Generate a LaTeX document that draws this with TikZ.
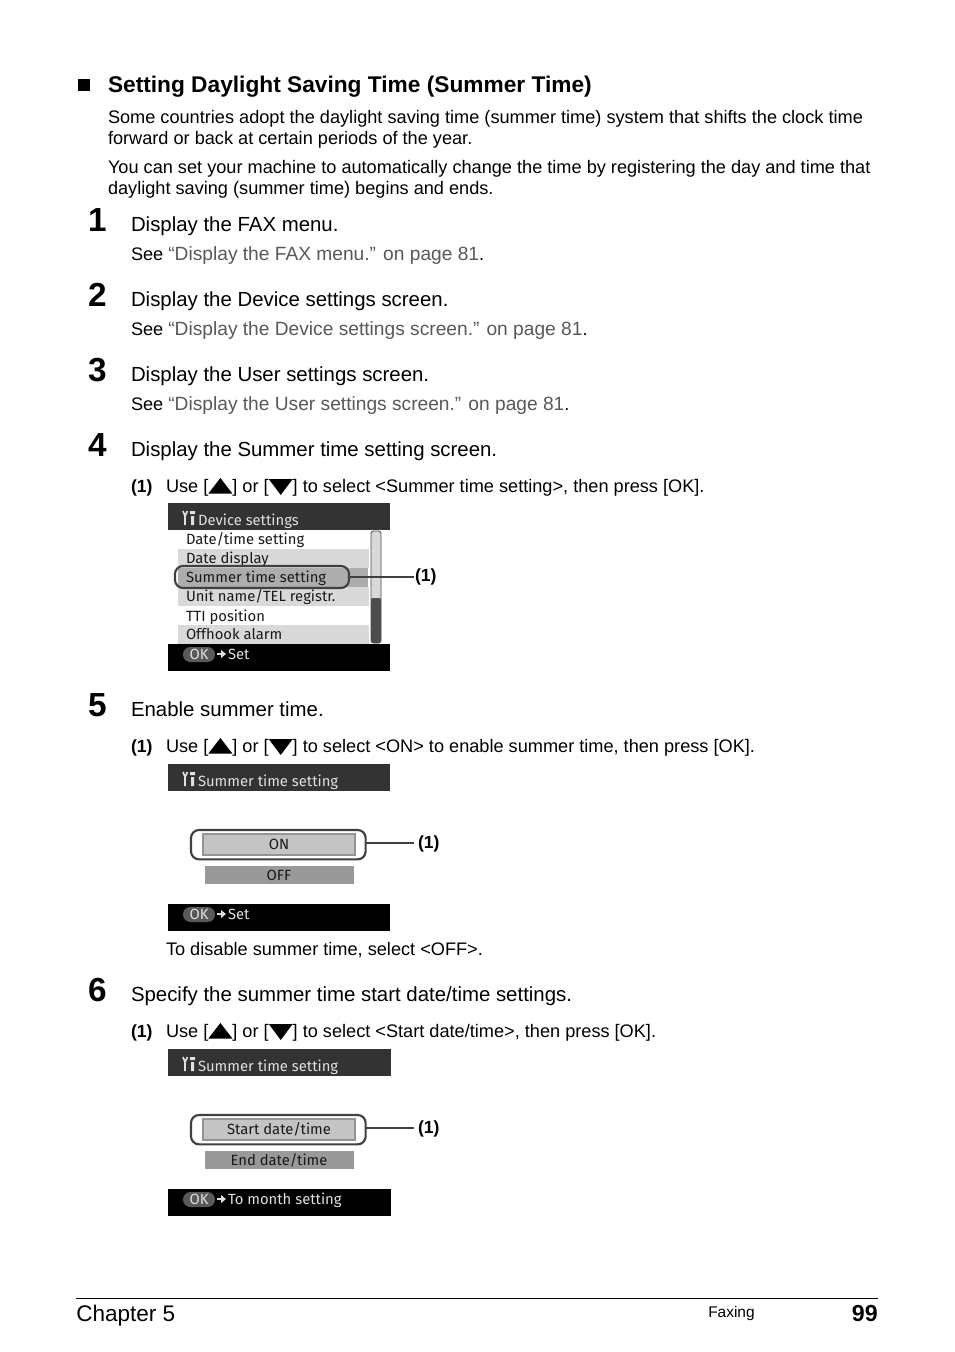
\documentclass[tikz,border=0pt]{standalone}
\usepackage{fontspec}
\setmainfont{Liberation Sans}
\newfontfamily\lcd{Fira Sans}
\newcommand{\up}{\tikz[baseline=0pt,x=.75pt,y=.75pt]\fill (0,-1.5)--(24,-1.5)--(12,14)--cycle;}
\newcommand{\dn}{\tikz[baseline=0pt,x=.75pt,y=.75pt]\fill (0,13)--(24,13)--(12,-3)--cycle;}
\definecolor{link}{gray}{0.35}
\definecolor{hdr}{gray}{0.2}
\definecolor{rowg}{gray}{0.85}
\definecolor{sel}{gray}{0.68}
\definecolor{onfill}{gray}{0.77}
\definecolor{onedge}{gray}{0.58}
\definecolor{offfill}{gray}{0.6}
\definecolor{okfill}{gray}{0.35}
\definecolor{lcdtxt}{gray}{0.1}
\definecolor{lcdlite}{gray}{0.88}
\newcommand{\lnk}[1]{{\fontsize{14.38}{15}\selectfont\textcolor{link}{#1}}}
\tikzset{
  x=0.75pt,y=-0.75pt,
  txt/.style={anchor=base west,inner sep=0,outer sep=0,font=\fontsize{13.62}{15}\selectfont},
  stepline/.style={anchor=base west,inner sep=0,outer sep=0,font=\fontsize{15.3}{17}\selectfont},
  head/.style={anchor=base west,inner sep=0,outer sep=0,font=\fontsize{17.03}{19}\selectfont\bfseries},
  num/.style={anchor=base west,inner sep=0,outer sep=0,font=\fontsize{25}{27}\selectfont\bfseries},
  small/.style={anchor=base west,inner sep=0,outer sep=0,font=\fontsize{13.2}{15}\selectfont\bfseries},
  lcdw/.style={anchor=base west,inner sep=0,outer sep=0,text=lcdlite,font=\fontsize{11.1}{13}\lcd},
  lcdb/.style={anchor=base west,inner sep=0,outer sep=0,text=lcdtxt,font=\fontsize{11.1}{13}\lcd},
  lcdc/.style={anchor=base,inner sep=0,outer sep=0,text=lcdtxt,font=\fontsize{11.1}{13}\lcd},
  callout/.style={draw=black!75,line width=1.6pt,rounded corners=6pt,inner sep=0,outer sep=0,anchor=north west},
  leader/.style={draw=black!75,line width=1.2pt},
  okpill/.style={fill=okfill,rounded corners=5.5pt},
}
\newcommand{\okbar}[4]{% x0,y0,x1,label
  \fill[black] (#1,#2) rectangle (#3,#2+27);
  \fill[okpill] (#1+15,#2+3) rectangle (#1+47,#2+18);
  \node[lcdw,anchor=base] at (#1+31,#2+15) {OK};
  \draw[lcdlite,line width=1.1pt] (#1+49,#2+10) -- (#1+54,#2+10);
  \fill[lcdlite] (#1+53,#2+6) -- (#1+58,#2+10) -- (#1+53,#2+14) -- cycle;
  \node[lcdw] at (#1+60,#2+15) {#4};
}
\newcommand{\wrench}[2]{%
  \draw[lcdlite,line width=1.2pt] (#1+1,#2-14) -- (#1+3,#2-9) -- (#1+5.5,#2-14) (#1+3,#2-9) -- (#1+3,#2);
  \fill[lcdlite] (#1+8,#2-14) rectangle ++(5,3) (#1+9,#2-9) rectangle ++(3,9);
}
\begin{document}
\begin{tikzpicture}
\useasboundingbox (0,0) rectangle (954,1352);
\fill[white] (0,0) rectangle (954,1352);
% heading
\fill[black] (78,79) rectangle (90,91);
\node[head] (h) at (108,92.5) {Setting Daylight Saving Time (Summer Time)};
\node[txt] (p1) at (108,124) {Some countries adopt the daylight saving time (summer time) system that shifts the clock time};
\node[txt] (p2) at (108,145) {forward or back at certain periods of the year.};
\node[txt] (p3) at (108,174) {You can set your machine to automatically change the time by registering the day and time that};
\node[txt] (p4) at (108,195) {daylight saving (summer time) begins and ends.};
% steps
\node[num] (n1) at (88,231) {1};
\node[stepline] (s1) at (131,231) {Display the FAX menu.};
\node[txt] (s1b) at (131,260) {See \lnk{“Display the FAX menu.” on page 81}.};
\node[num] (n2) at (88,306) {2};
\node[stepline] (s2) at (131,306) {Display the Device settings screen.};
\node[txt] (s2b) at (131,335) {See \lnk{“Display the Device settings screen.” on page 81}.};
\node[num] (n3) at (88,381) {3};
\node[stepline] (s3) at (131,381) {Display the User settings screen.};
\node[txt] (s3b) at (131,410) {See \lnk{“Display the User settings screen.” on page 81}.};
\node[num] (n4) at (88,456) {4};
\node[stepline] (s4) at (131,456) {Display the Summer time setting screen.};
\node[small] (l4) at (131,492) {(1)};
\node[txt] (u4) at (166,492) {Use [\up] or [\dn] to select <Summer time setting>, then press [OK].};
% screen 1
\fill[hdr] (168,503) rectangle (390,530);
\wrench{182}{525}
\node[lcdw] (t10) at (198,525) {Device settings};
\fill[rowg] (178,549) rectangle (369,568);
\fill[sel] (178,568) rectangle (368,587);
\fill[rowg] (178,587) rectangle (369,606);
\fill[rowg] (178,625) rectangle (369,644);
\node[lcdb] (t11) at (186,544) {Date/time setting};
\node[lcdb] (t12) at (186,563) {Date display};
\node[lcdb] (t13) at (186,582) {Summer time setting};
\node[lcdb] (t14) at (186,601) {Unit name/TEL registr.};
\node[lcdb] (t15) at (186,621) {TTI position};
\node[lcdb] (t16) at (186,639) {Offhook alarm};
\filldraw[fill=rowg,draw=black!70,line width=.6pt,rounded corners=2pt] (371,531) rectangle (381,643);
\fill[black!70,rounded corners=1.5pt] (371,598) rectangle (381,643);
\okbar{168}{644}{390}{Set}
\node[callout,minimum width=130.5pt,minimum height=16.5pt] (c1) at (175,566) {};
\coordinate (e1) at (414,577);
\draw[leader] (c1.east |- e1) -- (e1);
\node[small] (o1) at (415,581) {(1)};
% step 5
\node[num] (n5) at (88,716) {5};
\node[stepline] (s5) at (131,716) {Enable summer time.};
\node[small] (l5) at (131,752) {(1)};
\node[txt] (u5) at (166,752) {Use [\up] or [\dn] to select <ON> to enable summer time, then press [OK].};
\fill[hdr] (168,764) rectangle (390,791);
\wrench{182}{786}
\node[lcdw] (t20) at (198,786) {Summer time setting};
\filldraw[fill=onfill,draw=onedge,line width=1.5pt] (203,834) rectangle (355,855);
\fill[offfill] (205,866) rectangle (354,884);
\node[lcdc] (t21) at (279,849) {ON};
\node[lcdc] (t22) at (279,880) {OFF};
\okbar{168}{904}{390}{Set}
\node[callout,minimum width=131pt,minimum height=22pt] (c2) at (191,830) {};
\coordinate (e2) at (414,843);
\draw[leader] (c2.east |- e2) -- (e2);
\node[small] (o2) at (418,848) {(1)};
\node[txt] (d5) at (166,955) {To disable summer time, select <OFF>.};
% step 6
\node[num] (n6) at (88,1001) {6};
\node[stepline] (s6) at (131,1001) {Specify the summer time start date/time settings.};
\node[small] (l6) at (131,1037) {(1)};
\node[txt] (u6) at (166,1037) {Use [\up] or [\dn] to select <Start date/time>, then press [OK].};
\fill[hdr] (168,1049) rectangle (391,1076);
\wrench{182}{1071}
\node[lcdw] (t30) at (198,1071) {Summer time setting};
\filldraw[fill=onfill,draw=onedge,line width=1.5pt] (203,1119) rectangle (355,1140);
\fill[offfill] (205,1151) rectangle (354,1169);
\node[lcdc] (t31) at (279,1134) {Start date/time};
\node[lcdc] (t32) at (279,1165) {End date/time};
\okbar{168}{1189}{391}{To month setting}
\node[callout,minimum width=131pt,minimum height=22pt] (c3) at (191,1115) {};
\coordinate (e3) at (414,1128);
\draw[leader] (c3.east |- e3) -- (e3);
\node[small] (o3) at (418,1133) {(1)};
% footer
\draw[black,line width=.6pt] (76,1298) -- (878,1298);
\node[anchor=base west,inner sep=0,font=\fontsize{16.9}{19}\selectfont] (ch) at (76,1321) {Chapter 5};
\node[anchor=base west,inner sep=0,font=\fontsize{11.6}{13}\selectfont] (fx) at (708,1317) {Faxing};
\node[anchor=base east,inner sep=0,font=\fontsize{17.4}{19}\selectfont\bfseries] (pg) at (878,1321) {99};
\end{tikzpicture}
\end{document}
